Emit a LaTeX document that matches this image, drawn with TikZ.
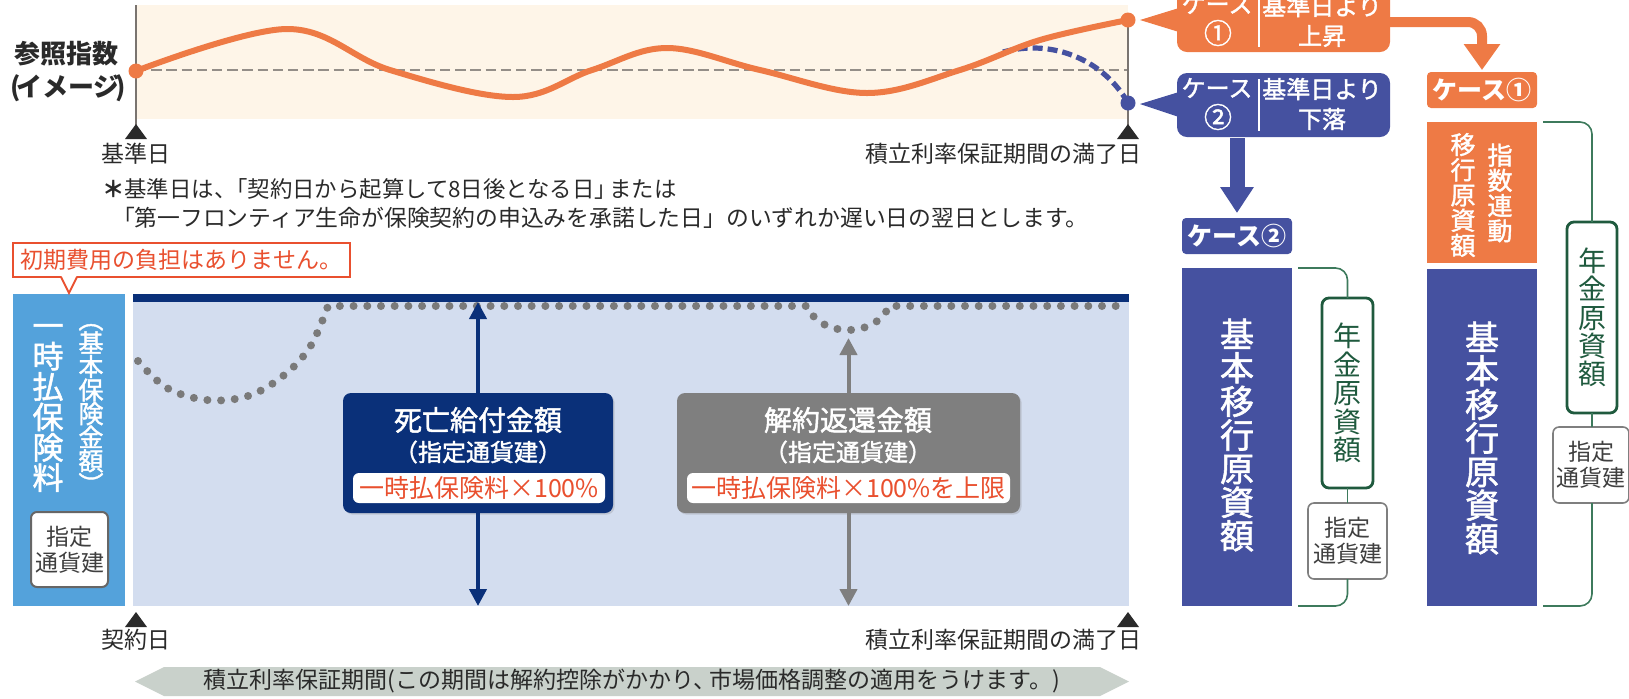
\documentclass[tikz,border=0pt]{standalone}
\usepackage{fontspec}
\setmainfont{Noto Sans CJK JP}
\newfontfamily\med{Noto Sans CJK JP}[FakeBold=1.6]
\usetikzlibrary{arrows.meta,shadows}
\definecolor{cOrange}{HTML}{EE7A45}
\definecolor{cPeach}{HTML}{FEF5E8}
\definecolor{cBlueTwo}{HTML}{4551A0}
\definecolor{cNavy}{HTML}{0A3079}
\definecolor{cSky}{HTML}{54A2DB}
\definecolor{cPale}{HTML}{D3DDEF}
\definecolor{cGrey}{HTML}{7F7F7F}
\definecolor{cDot}{HTML}{7A7A7A}
\definecolor{cRed}{HTML}{E9502F}
\definecolor{cGreen}{HTML}{1F5A3E}
\definecolor{cLine}{HTML}{3D7A5C}
\definecolor{cBanner}{HTML}{C9D1CB}
\definecolor{cText}{HTML}{2A2A2A}
\definecolor{cAxis}{HTML}{7A7470}
\definecolor{cDash}{HTML}{948E88}
\begin{document}
\begin{tikzpicture}[x=0.5pt,y=-0.5pt,
  every node/.style={inner sep=0pt,outer sep=0pt},
  lbl/.style={text=cText,font=\fontsize{11.5}{13}\selectfont},
  vt/.style={align=center,inner sep=0pt},
  rectbox/.style={rectangle,inner sep=0pt},
  casebox/.style={rectangle,rounded corners=5pt,minimum width=106.5pt,minimum height=32pt},
  casetxt/.style={text=white,font=\med\fontsize{12}{14}\selectfont},
  casenum/.style={text=white,font=\med\fontsize{14}{14}\selectfont},
  casetag/.style={rectangle,rounded corners=2pt,minimum width=55pt,minimum height=18pt,text=white,font=\bfseries\fontsize{12.5}{13}\selectfont},
  greenbox/.style={rectangle,draw=cGreen,line width=1.4pt,rounded corners=3.5pt,fill=white,text=cGreen,align=center,font=\fontsize{14}{14.2}\selectfont},
  greybox/.style={rectangle,draw=cGrey,line width=0.8pt,rounded corners=3pt,fill=white,text=cText!90,align=center,font=\fontsize{11.5}{13}\selectfont},
  brk/.style={draw=cLine,line width=0.8pt,rounded corners=6pt},
  bigbox/.style={rectangle,rounded corners=4pt,minimum height=60pt,drop shadow={shadow xshift=0.8pt,shadow yshift=-0.8pt,opacity=0.25}},
  innerbox/.style={rectangle,rounded corners=3pt,fill=white,minimum height=15pt,text=cRed,font=\fontsize{12.5}{13}\selectfont},
  dotm/.style={circle,minimum size=7.5pt},
]
\useasboundingbox (0,0) rectangle (1629,698);
% ---------- top chart ----------
\fill[cPeach] (136,5) rectangle (1128,119);
\draw[cDash,line width=0.8pt,dash pattern=on 5.2pt off 2.4pt] (136,70) -- (1128,70);
\draw[cAxis,line width=0.8pt] (136,5) -- (136,126);
\draw[cAxis,line width=0.8pt] (1128,20) -- (1128,126);
\fill[cText] (125,139) -- (136,124) -- (147,139) -- cycle;
\fill[cText] (1117,139) -- (1128,124) -- (1139,139) -- cycle;
\draw[cBlueTwo,line width=2.6pt,dash pattern=on 5pt off 2.5pt] (1003,52) .. controls (1055,38) and (1105,62) .. (1128,103);
\draw[cOrange,line width=3pt] plot[smooth,tension=0.6] coordinates {(136,71) (287,29) (390,70) (513,97) (592,70) (667,48) (760,70) (867,93) (960,70) (1040,40) (1128,20)};
\node[dotm,fill=cOrange] (d0) at (136,71) {};
\node[dotm,fill=cOrange] (d1) at (1128,20) {};
\node[dotm,fill=cBlueTwo] (d2) at (1128,103) {};
\node[text=cText,font=\bfseries\fontsize{13}{15}\selectfont] (ylabA) at (67,54) {参照指数};
\node[text=cText,font=\bfseries\fontsize{13}{15}\selectfont] (ylabB) at (68,88) {(\kern-0.18em イメージ\kern-0.18em)};
\node[lbl] (kijun) at (136,154) {基準日};
\node[lbl,anchor=east] (mankiA) at (1141,154) {積立利率保証期間の満了日};
\node[lbl,font=\fontsize{11.2}{13}\selectfont,anchor=west] (noteA) at (102,189) {{\bfseries ＊}基準日は、\kern-0.5em「契約日から起算して8日後となる日」\kern-0.35em または};
\node[lbl,font=\fontsize{11.4}{13}\selectfont,anchor=west] (noteB) at (112,218) {「第一フロンティア生命が保険契約の申込みを承諾した日」のいずれか遅い日の翌日とします。};
% ---------- case boxes ----------
\node[casebox,fill=cOrange] (c1) at (1283.5,20) {};
\node[casebox,fill=cBlueTwo] (c2) at (1283.5,105) {};
\fill[cOrange] (1179,8) -- (1140,20) -- (1179,32) -- cycle;
\fill[cBlueTwo] (1179,92) -- (1140,104) -- (1179,117) -- cycle;
\draw[white,line width=0.6pt] (1259,-6) -- (1259,47);
\draw[white,line width=0.6pt] (1259,79) -- (1259,131);
\node[casetxt] (c1a) at (1217,4) {ケース};
\node[casenum] (c1b) at (1218,33) {①};
\node[casetxt] (c1c) at (1322,6) {基準日より};
\node[casetxt] (c1d) at (1322,36) {上昇};
\node[casetxt] (c2a) at (1217,88) {ケース};
\node[casenum] (c2b) at (1218,117) {②};
\node[casetxt] (c2c) at (1322,89) {基準日より};
\node[casetxt] (c2d) at (1322,119) {下落};
\node[casetag,fill=cOrange] (l1) at (1482,90) {ケース①};
\node[casetag,fill=cBlueTwo] (l2) at (1237,236) {ケース②};
\draw[cOrange,line width=5pt,rounded corners=7pt,-{Triangle[width=17.5pt,length=13pt]}] ([yshift=-1pt]c1.east) -| ([yshift=1pt]l1.north);
\draw[cBlueTwo,line width=7.5pt,-{Triangle[width=16pt,length=13pt]}] ([yshift=-0.5pt]c2.south -| l2.north) -- ([yshift=2.5pt]l2.north);
% ---------- right columns ----------
\node[rectbox,fill=cBlueTwo,minimum width=55pt,minimum height=169pt] (r2) at (1237,437) {};
\node[vt,text=white,font=\med\fontsize{17}{16.8}\selectfont] (r2t) at (1237,435) {基\\本\\移\\行\\原\\資\\額};
\node[rectbox,fill=cOrange,minimum width=55pt,minimum height=70.5pt] (o1) at (1482,192.5) {};
\node[vt,text=white,font=\med\fontsize{12.5}{12.6}\selectfont] (o1a) at (1500,193) {指\\数\\連\\動};
\node[vt,text=white,font=\med\fontsize{12.5}{12.6}\selectfont] (o1b) at (1463,195) {移\\行\\原\\資\\額};
\node[rectbox,fill=cBlueTwo,minimum width=55pt,minimum height=168.5pt] (r1) at (1482,437.5) {};
\node[vt,text=white,font=\med\fontsize{17}{16.8}\selectfont] (r1t) at (1482,438) {基\\本\\移\\行\\原\\資\\額};
\node[greenbox,minimum width=25.5pt,minimum height=95pt] (g2) at (1347.5,393) {年\\金\\原\\資\\額};
\node[greybox,minimum width=39.5pt,minimum height=38pt] (s2) at (1347.5,541) {指定\\通貨建};
\draw[brk] ([xshift=3pt]r2.north east) -| (g2.north);
\draw[brk] (g2.south) -- (s2.north);
\draw[brk] (s2.south) |- ([xshift=3pt]r2.south east);
\node[greenbox,minimum width=25pt,minimum height=95.5pt] (g1) at (1592,317.5) {年\\金\\原\\資\\額};
\node[greybox,minimum width=38pt,minimum height=38pt] (s1) at (1591,465) {指定\\通貨建};
\draw[brk] ([xshift=3pt]o1.north east) -| (g1.north);
\draw[brk] (g1.south) -- (g1.south |- s1.north);
\draw[brk] (g1.south |- s1.south) |- ([xshift=3pt]r1.south east);
% ---------- lower chart ----------
\node[rectbox,draw=cRed,line width=0.9pt,fill=white,minimum width=168.5pt,minimum height=17pt,text=cRed,font=\fontsize{11.5}{13}\selectfont] (nb) at (181.5,260) {初期費用の負担はありません。};
\node[rectbox,fill=cSky,minimum width=56pt,minimum height=156pt] (lc) at (69,450) {};
\fill[white] (61,275) -- (69,292) -- (77,275) -- cycle;
\draw[cRed,line width=0.9pt] (61,277) -- (69,293) -- (77,277);
\node[vt,text=white,font=\med\fontsize{15.5}{15.2}\selectfont] (lcA) at (48,408) {一\\時\\払\\保\\険\\料};
\node[vt,text=white,font=\med\fontsize{12.5}{11.8}\selectfont] (lcB) at (91,409) {︵\\基\\本\\保\\険\\金\\額\\︶};
\node[greybox,draw=cGrey!80!black,line width=1pt,minimum width=38.5pt,minimum height=37.5pt] (lcs) at (69.5,549.5) {指定\\通貨建};
\node[rectbox,fill=cPale,minimum width=498pt,minimum height=156pt] (pa) at (631,450) {};
\fill[cNavy] (pa.north west) rectangle ([yshift=-4pt]pa.north east);
\draw[cDot,line width=4pt,line cap=round,dash pattern=on 0pt off 6.85pt] plot[smooth,tension=0.6] coordinates {(138,361) (167,388) (207,400) (248,396) (283,376) (310,347) (328,306)} -- (807,306) .. controls (820,338) and (876,338) .. (889,306) -- (1126,306);
\node[bigbox,fill=cNavy,minimum width=135pt] (nv) at (478,453) {};
\node[text=white,font=\med\fontsize{14}{15}\selectfont] (nvA) at (478,420) {死亡給付金額};
\node[text=white,font=\med\fontsize{12}{13}\selectfont] (nvB) at (478,452) {（指定通貨建）};
\node[innerbox,minimum width=126pt] (nvC) at (479,488) {一時払保険料×100\%};
\coordinate (nvtop) at (478,302);
\coordinate (nvbot) at (478,606);
\draw[cNavy,line width=2pt,{Triangle[width=8.5pt,length=8.5pt]}-] (nvtop) -- (nv.north);
\draw[cNavy,line width=2pt,-{Triangle[width=8.5pt,length=8.5pt]}] (nv.south) -- (nvbot);
\node[bigbox,fill=cGrey,minimum width=171.5pt] (gb) at (848.5,453) {};
\node[text=white,font=\med\fontsize{14}{15}\selectfont] (gbA) at (848,420) {解約返還金額};
\node[text=white,font=\med\fontsize{12}{13}\selectfont] (gbB) at (848,452) {（指定通貨建）};
\node[innerbox,minimum width=161.5pt] (gbC) at (848.5,488) {一時払保険料×100\%を上限};
\coordinate (gbtop) at (848.5,338);
\coordinate (gbbot) at (848.5,606);
\draw[cGrey,line width=2pt,{Triangle[width=8.5pt,length=8.5pt]}-] (gbtop) -- (gb.north);
\draw[cGrey,line width=2pt,-{Triangle[width=8.5pt,length=8.5pt]}] (gb.south) -- (gbbot);
% ---------- bottom ----------
\fill[cText] (125,627) -- (136,612) -- (147,627) -- cycle;
\fill[cText] (1117,627) -- (1128,612) -- (1139,627) -- cycle;
\node[lbl] (keiyaku) at (136,640) {契約日};
\node[lbl,anchor=east] (mankiB) at (1141,640) {積立利率保証期間の満了日};
\fill[cBanner] (135,681.5) -- (164,667) -- (1100,667) -- (1129,681.5) -- (1100,696) -- (164,696) -- cycle;
\node[lbl] (period) at (632,681.5) {積立利率保証期間(この期間は解約控除がかかり、\kern-0.3em 市場価格調整の適用をうけます。)};
\end{tikzpicture}
\end{document}
